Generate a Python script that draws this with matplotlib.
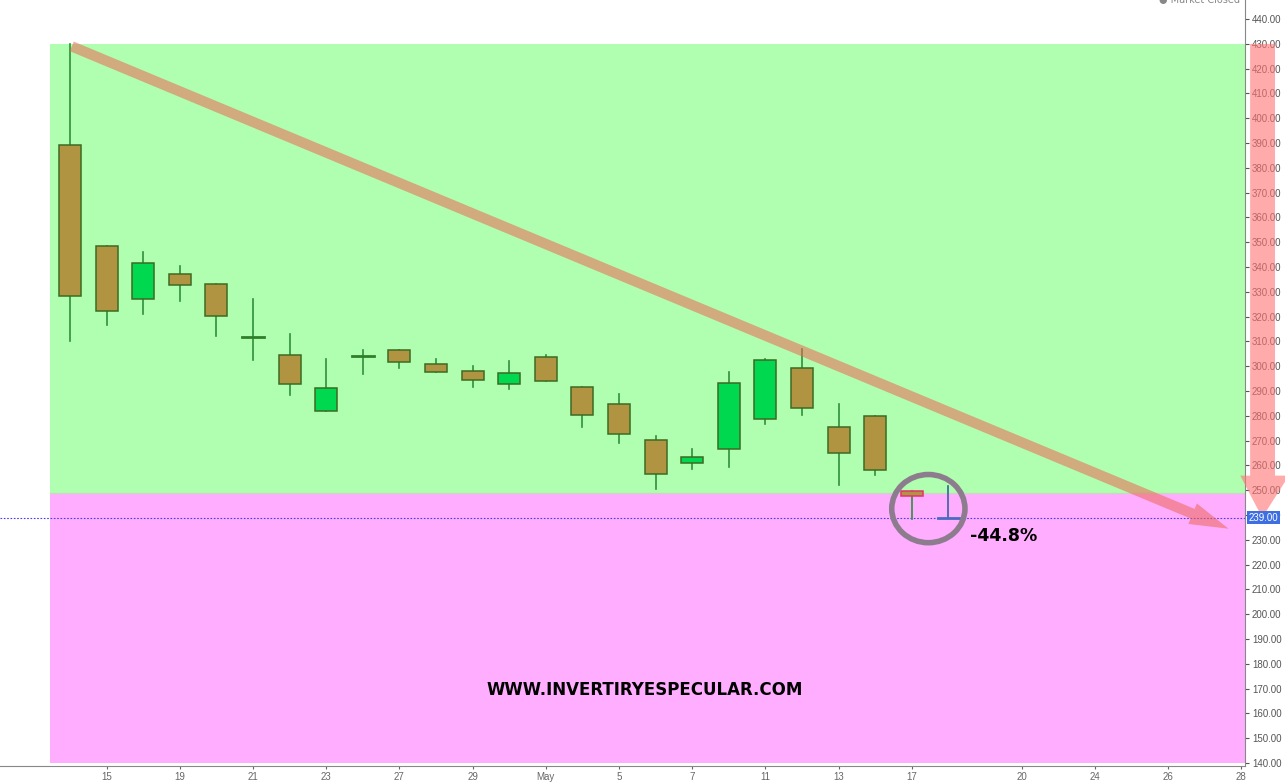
import matplotlib
matplotlib.use("Agg")
import matplotlib.pyplot as plt
from matplotlib.patches import Rectangle, Ellipse, Polygon, FancyArrowPatch
import matplotlib.transforms as mtransforms

# dane świec
opens = [389.1, 348.6, 327.1, 337.3, 333.3, 311.9, 304.6, 282.0, 304.2, 306.6, 300.9, 298.2, 292.8,
         303.8, 291.7, 284.7, 270.4, 260.8, 266.7, 278.8, 299.2, 275.6, 280.1, 249.8, 239.0]
closes = [328.3, 322.4, 341.8, 332.9, 320.4, 311.9, 292.9, 291.4, 304.2, 301.8, 297.8, 294.5, 297.4,
          294.1, 280.4, 272.7, 256.4, 263.4, 293.2, 302.7, 283.2, 265.1, 258.2, 247.8, 239.0]
highs = [430.0, 348.6, 346.1, 340.3, 333.3, 327.2, 313.2, 303.0, 306.4, 306.6, 303.0, 300.0, 302.3,
         304.4, 291.7, 289.0, 271.7, 266.8, 297.6, 303.0, 307.0, 284.6, 280.1, 249.8, 251.9]
lows = [310.0, 316.7, 321.2, 326.3, 312.2, 302.6, 288.3, 282.0, 296.8, 299.4, 297.8, 291.8, 291.0,
        294.1, 275.4, 269.0, 250.4, 258.5, 259.3, 276.6, 280.5, 252.3, 256.0, 238.4, 239.0]

tick_pos = [1, 3, 5, 7, 9, 11, 13, 15, 17, 19, 21, 23, 26, 28, 30, 32]
tick_labels = ['15', '19', '21', '23', '27', '29', 'May', '5', '7', '11', '13', '17', '20', '24', '26', '28']

last_price = 239.0
zone_top = 430.0
zone_mid = 249.0
zone_bottom = 140.0
trend_start = (0.05, 429.0)
trend_end = (31.65, 234.5)

BROWN = '#b09442'
GREEN = '#00d84f'
EDGE = '#3c6b22'
WICK = '#2f8f3a'

fig = plt.figure(figsize=(12.85, 7.83), dpi=100)
ax = fig.add_axes([0.0, 0.0217, 1245 / 1285, 1 - 0.0217])
ax.set_xlim(-1.91, 32.1)
ax.set_ylim(138.8, 447.7)

# strefy tła
ax.axhspan(zone_mid, zone_top, xmin=0.04, xmax=1, color='#b0ffb0', zorder=0, lw=0)
ax.axhspan(zone_bottom, zone_mid, xmin=0.04, xmax=1, color='#ffadff', zorder=0, lw=0)
ax.axhline(zone_mid, xmin=0.04, color='#c8d8c0', lw=1, zorder=0.5)

# świece
w = 0.6
for i, (o, c, h, l) in enumerate(zip(opens, closes, highs, lows)):
    wick_col = '#3b5fa0' if i == 24 else WICK
    ax.plot([i, i], [l, h], color=wick_col, lw=1.2, zorder=2)
    if abs(o - c) < 0.5:
        col = '#4a6cc0' if i == 24 else '#2f7f2a'
        ax.plot([i - w / 2, i + w / 2], [o, o], color=col, lw=2, zorder=3)
        continue
    face = GREEN if c > o else BROWN
    edge = '#e8306a' if i == 23 else EDGE
    ax.add_patch(Rectangle((i - w / 2, min(o, c)), w, abs(c - o), facecolor=face,
                           edgecolor=edge, lw=1.1, zorder=3))

# linia ostatniej ceny
ax.axhline(last_price, color='#4b3cf0', lw=0.8, linestyle=(0, (1.5, 1.5)), zorder=1.5)

# linia trendu ze strzałką
arr = FancyArrowPatch(trend_start, trend_end,
                      arrowstyle='simple,tail_width=0.75,head_width=1.6,head_length=2.8',
                      mutation_scale=10, color=(0.93, 0.4, 0.33), alpha=0.55, lw=0,
                      shrinkA=0, shrinkB=0, zorder=4)
ax.add_patch(arr)

# kółko wokół ostatnich świec
ax.add_patch(Ellipse((23.45, 242.6), 2.0, 27.5, fill=False, edgecolor='#8c7c8e', lw=4, zorder=5))

ax.text(25.5, 231.5, '-44.8%', fontsize=12.5, fontweight='bold', ha='center', va='center',
        color='black', zorder=6)
ax.text(15.7, 169.5, 'WWW.INVERTIRYESPECULAR.COM', fontsize=12, fontweight='bold',
        family='DejaVu Sans', ha='center', va='center', color='black', zorder=6)

# osie
ax.yaxis.tick_right()
ax.set_yticks(range(140, 450, 10))
ax.set_yticklabels([f'{v:.2f}' for v in range(140, 450, 10)])
ax.set_xticks(tick_pos)
ax.set_xticklabels(tick_labels)
ax.tick_params(axis='y', labelsize=7, colors='#555555', length=3, pad=2)
ax.tick_params(axis='x', labelsize=7, colors='#666666', length=2, pad=2)
for s in ['left', 'top']:
    ax.spines[s].set_visible(False)
ax.spines['right'].set_color('#888888')
ax.spines['bottom'].set_color('#888888')
for lab in ax.get_yticklabels():
    lab.set_family('Liberation Sans')
for lab in ax.get_xticklabels():
    lab.set_family('Liberation Sans')

# etykieta ostatniej ceny
trans = mtransforms.blended_transform_factory(ax.transAxes, ax.transData)
ax.text(1.003, last_price, '239.00', transform=trans, fontsize=7, color='white',
        family='Liberation Sans', ha='left', va='center', zorder=8, clip_on=False,
        bbox=dict(boxstyle='square,pad=0.2', facecolor='#3d6fe3', edgecolor='none'))

# czerwona strzałka przy osi cen
ax.add_patch(Polygon([(32.24, zone_top), (32.92, zone_top), (32.92, 255.9), (33.3, 255.9),
                      (32.57, last_price), (31.97, 255.9), (32.24, 255.9)],
                     closed=True, facecolor=(1.0, 0.45, 0.45), alpha=0.6, lw=0,
                     clip_on=False, zorder=7))

fig.text(0.965, 1.0, '\u25cf Market Closed', fontsize=7, color='#888888', ha='right', va='center')

fig.savefig('out.png', dpi=100)
